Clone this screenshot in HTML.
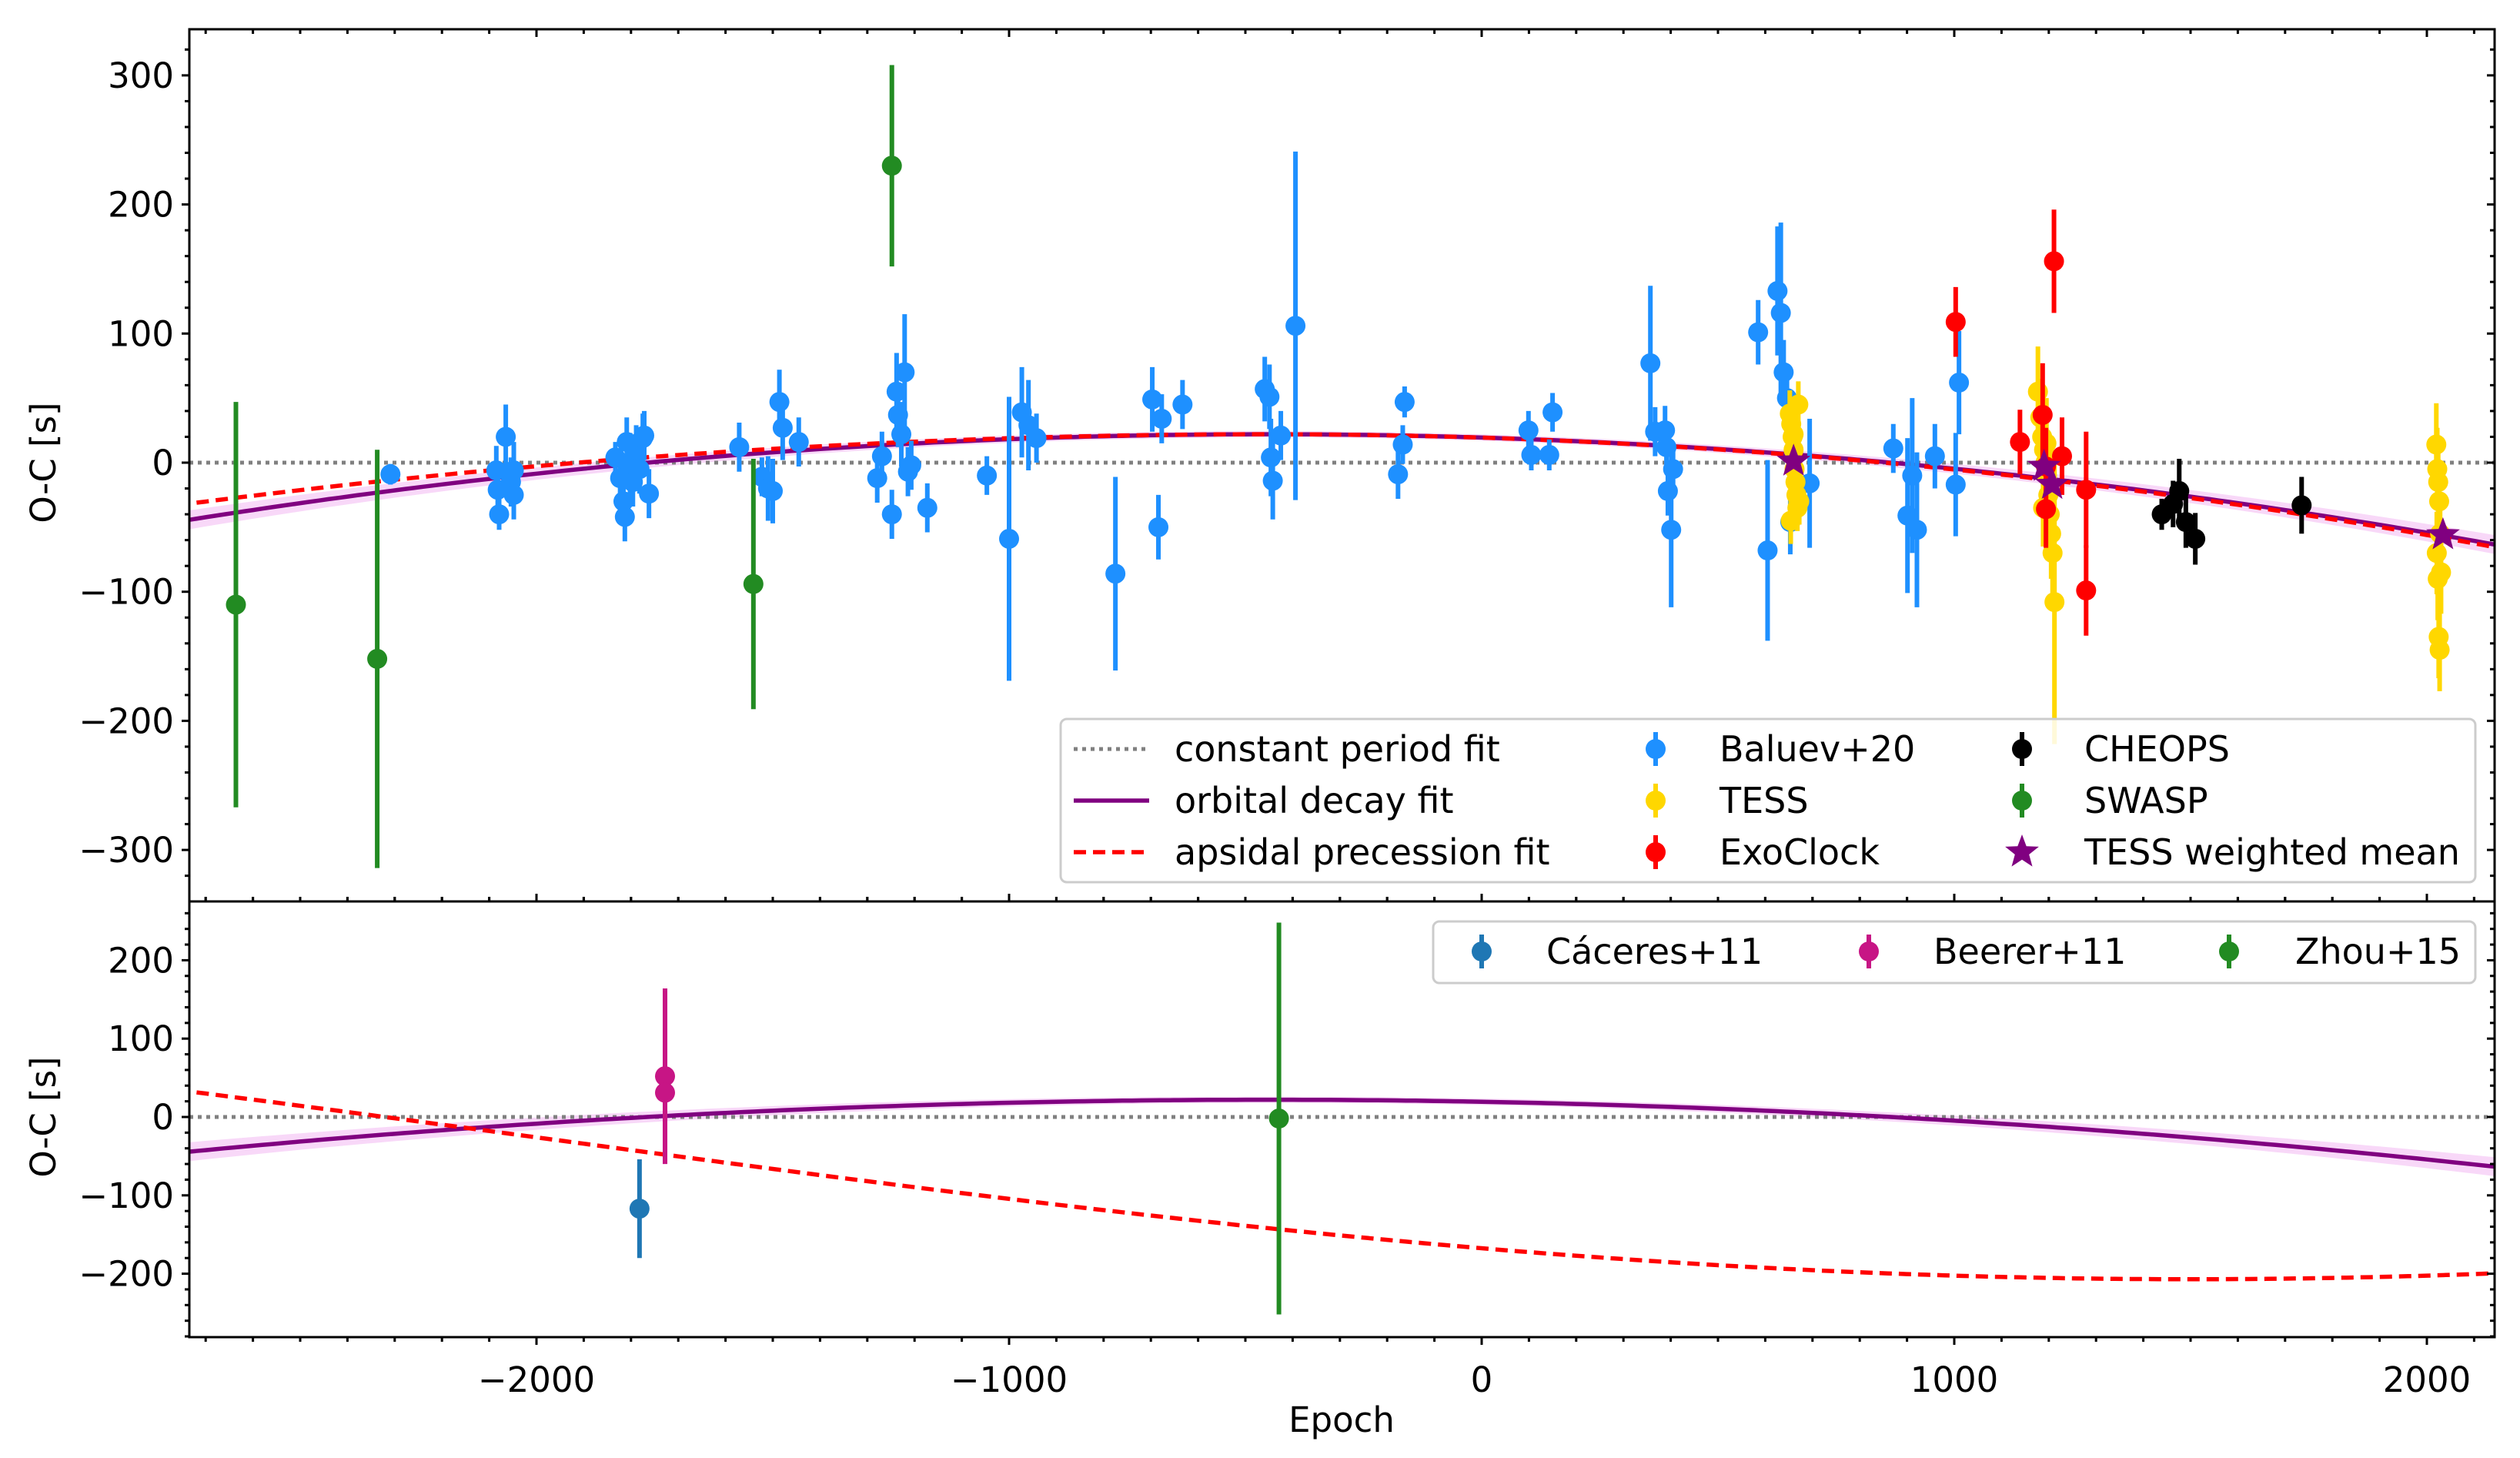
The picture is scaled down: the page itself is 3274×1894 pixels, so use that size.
<!DOCTYPE html>
<html><head><meta charset="utf-8"><style>
body{margin:0;background:#fff}
svg{display:block;font-family:"DejaVu Sans","Liberation Sans",sans-serif}
</style></head><body>
<svg id="fig" width="3274" height="1894" viewBox="0 0 3274 1894" xmlns="http://www.w3.org/2000/svg">
<defs>
<clipPath id="cTop"><rect x="246" y="38" width="2995" height="1133"/></clipPath>
<clipPath id="cBot"><rect x="246" y="1171" width="2995" height="566"/></clipPath>
</defs>
<g id="gTop" clip-path="url(#cTop)"></g>
<g id="gBot" clip-path="url(#cBot)"></g>
<g id="axes"></g>
<text x="0" y="0" font-size="45" text-anchor="middle" transform="translate(72,601) rotate(-90)">O-C [s]</text>
<text x="0" y="0" font-size="45" text-anchor="middle" transform="translate(72,1451) rotate(-90)">O-C [s]</text>
<text x="1743" y="1860" font-size="45" text-anchor="middle">Epoch</text>
<g id="legTop"></g>
<g id="legBot"></g>
</svg>
<script>
// ---- data ----
const baluevE=[-2309,-2085,-2082,-2079,-2065,-2054,-2048,-2048,-1833,-1823,-1816,-1813,-1809,-1802,-1796,-1789,-1782,-1775,-1772,-1762,-1571,-1523,-1510,-1500,-1486,-1479,-1445,-1279,-1269,-1248,-1238,-1235,-1228,-1221,-1214,-1207,-1173,-1047,-1000,-973,-959,-942,-775,-697,-684,-677,-633,-459,-449,-446,-442,-425,-394,-177,-167,-163,99,105,143,150,357,367,388,391,394,401,405,585,605,626,633,639,646,653,694,871,901,911,921,959,1003,1010];
const baluevV=[-9,-6,-21,-40,20,-15,-6,-25,4,-12,-30,-42,16,-2,-15,10,-5,19,21,-24,12,-11,-20,-22,47,27,16,-12,5,-40,55,37,22,70,-7,-2,-35,-10,-59,39,29,19,-86,49,-50,34,45,57,51,4,-14,21,106,-9,14,47,25,6,6,39,77,24,25,12,-22,-52,-5,101,-68,133,116,70,50,-46,-16,11,-41,-10,-52,5,-17,62];
const baluevErr=[8,19,15,12,25,19,22,19,12,15,19,19,19,25,19,19,19,19,19,19,19,15,25,25,25,25,19,19,19,19,30,25,25,45,19,19,19,15,110,35,35,19,75,25,25,19,19,25,25,30,30,19,135,19,15,12,15,12,12,15,60,19,19,19,19,60,19,25,70,50,70,25,25,25,50,19,60,60,60,25,40,40];
const tessE=[652,655,658,660,662,664,666,668,654,660,670,672,1177,1182,1186,1190,1193,1196,1199,1202,1205,1208,1212,1188,1195,2020,2022,2024,2026,2028,2021,2023,2025,2027,2030];
const tessV=[38,30,20,10,-5,-15,-25,-35,-45,22,45,-30,55,35,20,10,0,-10,-25,-40,-55,-70,-108,-35,15,14,-5,-15,-30,-55,-70,-90,-135,-145,-85];
const tessErr=[18,18,18,18,18,18,18,18,18,18,18,18,35,30,30,30,30,30,35,35,35,35,110,30,35,32,32,32,32,32,32,32,32,32,32];
const exoE=[1003,1139,1187,1194,1211,1228,1194,1279,1279];
const exoV=[109,16,37,-3,156,5,-36,-21,-99];
const exoErr=[27,25,40,30,40,30,30,45,35];
const cheopsE=[1439,1463,1476,1490,1510,1735];
const cheopsV=[-40,-32,-22,-46,-59,-33];
const cheopsErr=[12,18,25,20,20,22];
const swaspE=[-2636,-2337,-1541,-1248];
const swaspV=[-110,-152,-94,230];
const swaspErr=[157,162,97,78];
const meanE=[660,1190,1207,2034];
const meanV=[1,-3,-17,-56];
const caceresE=[-1782];const caceresV=[-117];const caceresErr=[63];
const beererE=[-1728,-1728];const beererV=[52,31];const beererErr=[112,82];
const zhouE=[-429];const zhouV=[-2];const zhouErr=[250];
const xTicks=[-2000,-1000,0,1000,2000];
const yTicksTop=[300,200,100,0,-100,-200,-300];
const yTicksBot=[200,100,0,-100,-200];

// ---- scales ----
const L=246,R=3241,TT=38,TB=1171,BT=1171,BB=1737;
const X=e=>1925+e*0.614;
const YT=v=>601-v*1.677;
const YB=v=>1451-v*1.018;
const NS='http://www.w3.org/2000/svg';
function mk(tag,attrs,parent){const el=document.createElementNS(NS,tag);for(const k in attrs)el.setAttribute(k,attrs[k]);parent.appendChild(el);return el;}
const gTop=document.getElementById('gTop'),gBot=document.getElementById('gBot'),ax=document.getElementById('axes');
const decay=e=>22-1.27e-5*(e+450)*(e+450);
const apsTop=e=>e< -450?22-1.03e-5*(e+450)*(e+450):22-1.3e-5*(e+450)*(e+450);
const apsBot=e=>-26-181*Math.cos(Math.PI*(e-1500)/7000);
function curvePts(f,Y){let p=[];for(let e=-2800;e<=2200;e+=20)p.push(X(e).toFixed(1)+','+Y(f(e)).toFixed(1));return p.join(' ');}
function band(f,Y,g){let up=[],dn=[];for(let e=-2800;e<=2200;e+=20){const w=4+Math.pow(Math.abs(e+300)/2400,2)*8;up.push(X(e)+','+(Y(f(e))-w));dn.unshift(X(e)+','+(Y(f(e))+w));}
 const b=mk('polygon',{points:up.concat(dn).join(' '),fill:'#f5c8f5','fill-opacity':'0.7'},g);
 
 }
function drawPanel(g,Y,aps){
 band(decay,Y,g);
 const z=mk('line',{x1:L,x2:R,y1:Y(0),y2:Y(0),stroke:'#808080','stroke-width':5,'stroke-dasharray':'5 6'},g);
 
 
 const d=mk('polyline',{points:curvePts(decay,Y),fill:'none',stroke:'#800080','stroke-width':5.5},g);
 
 
 const a=mk('polyline',{points:curvePts(aps,Y),fill:'none',stroke:'#ff0000','stroke-width':5.5,'stroke-dasharray':'16 9'},g);
 
 
}
function series(g,Y,E,V,Er,col,name){
 for(let i=0;i<E.length;i++){
  const l=mk('line',{x1:X(E[i]),x2:X(E[i]),y1:Y(V[i]+Er[i]),y2:Y(V[i]-Er[i]),stroke:col,'stroke-width':6},g);
  
  
 }
 for(let i=0;i<E.length;i++){
  const c=mk('circle',{cx:X(E[i]),cy:Y(V[i]),r:13,fill:col},g);
  
  
 }
}
function starPath(cx,cy,r){let p=[];for(let i=0;i<10;i++){const rr=i%2?r*0.42:r;const a=-Math.PI/2+i*Math.PI/5;p.push((cx+rr*Math.cos(a)).toFixed(1)+','+(cy+rr*Math.sin(a)).toFixed(1));}return p.join(' ');}
drawPanel(gTop,YT,apsTop);
series(gTop,YT,baluevE,baluevV,baluevErr,'#1e90ff','baluev');
series(gTop,YT,tessE,tessV,tessErr,'#ffd700','tess');
series(gTop,YT,exoE,exoV,exoErr,'#ff0000','exoclock');
series(gTop,YT,cheopsE,cheopsV,cheopsErr,'#000000','cheops');
series(gTop,YT,swaspE,swaspV,swaspErr,'#228b22','swasp');
for(let i=0;i<meanE.length;i++){
 const s=mk('polygon',{points:starPath(X(meanE[i]),YT(meanV[i]),23),fill:'#800080'},gTop);
 
 
}
drawPanel(gBot,YB,apsBot);
series(gBot,YB,caceresE,caceresV,caceresErr,'#1f77b4','caceres');
series(gBot,YB,beererE,beererV,beererErr,'#c71585','beerer');
series(gBot,YB,zhouE,zhouV,zhouErr,'#228b22','zhou');

// ---- axes ----
function frame(t,b,name){const r=mk('rect',{x:L,y:t,width:R-L,height:b-t,fill:'none',stroke:'#000','stroke-width':3},ax);
 
 }
frame(TT,TB,'top-panel-frame');frame(BT,BB,'bottom-panel-frame');
function tline(x1,y1,x2,y2,w){mk('line',{x1,y1,x2,y2,stroke:'#000','stroke-width':w||3},ax);}
for(let e=-2700;e<=2100;e+=100){const x=X(e);const maj=e%1000===0;const len=maj?10:6;
 tline(x,BB,x,BB+len);tline(x,BT,x,BT-len);tline(x,TB,x,TB-len);tline(x,TT,x,TT+len);}
xTicks.forEach(e=>{const t=mk('text',{x:X(e),y:1808,'font-size':45,'text-anchor':'middle'},ax);t.textContent=String(e).replace('-','\u2212');
 
 });
for(let v=-340;v<=340;v+=20){const y=YT(v);if(y<TT||y>TB)continue;const maj=v%100===0;const len=maj?10:6;tline(L,y,L-len,y);tline(R,y,R-len,y);}
for(let v=-280;v<=280;v+=20){const y=YB(v);if(y<BT||y>BB)continue;const maj=v%100===0;const len=maj?10:6;tline(L,y,L-len,y);tline(R,y,R-len,y);}
yTicksTop.forEach(v=>{const t=mk('text',{x:226,y:YT(v)+16,'font-size':45,'text-anchor':'end'},ax);t.textContent=String(v).replace('-','\u2212');
 
 });
yTicksBot.forEach(v=>{const t=mk('text',{x:226,y:YB(v)+16,'font-size':45,'text-anchor':'end'},ax);t.textContent=String(v).replace('-','\u2212');
 
 });

// ---- legends ----
const lt=document.getElementById('legTop'),lb=document.getElementById('legBot');
mk('rect',{x:1378,y:934,width:1838,height:212,rx:8,fill:'#fff','fill-opacity':0.85,stroke:'#ccc','stroke-width':3},lt);
mk('rect',{x:1862,y:1197,width:1354,height:80,rx:8,fill:'#fff','fill-opacity':0.85,stroke:'#ccc','stroke-width':3},lb);
function ltext(g,x,y,s,name){const t=mk('text',{x,y:y+16,'font-size':46},g);t.textContent=s;
 
 }
const rows=[973,1040,1107];
mk('line',{x1:1395,x2:1493,y1:rows[0],y2:rows[0],stroke:'#808080','stroke-width':5,'stroke-dasharray':'5 6'},lt);
mk('line',{x1:1395,x2:1493,y1:rows[1],y2:rows[1],stroke:'#800080','stroke-width':5.5},lt);
mk('line',{x1:1395,x2:1493,y1:rows[2],y2:rows[2],stroke:'#ff0000','stroke-width':5.5,'stroke-dasharray':'16 9'},lt);
ltext(lt,1526,rows[0],'constant period fit','legend-constant-period');
ltext(lt,1526,rows[1],'orbital decay fit','legend-orbital-decay');
ltext(lt,1526,rows[2],'apsidal precession fit','legend-apsidal-precession');
function lmark(g,x,y,col){mk('line',{x1:x,x2:x,y1:y-22,y2:y+22,stroke:col,'stroke-width':6},g);mk('circle',{cx:x,cy:y,r:13,fill:col},g);}
lmark(lt,2151,rows[0],'#1e90ff');ltext(lt,2234,rows[0],'Baluev+20','legend-baluev');
lmark(lt,2151,rows[1],'#ffd700');ltext(lt,2234,rows[1],'TESS','legend-tess');
lmark(lt,2151,rows[2],'#ff0000');ltext(lt,2234,rows[2],'ExoClock','legend-exoclock');
lmark(lt,2627,rows[0],'#000');ltext(lt,2708,rows[0],'CHEOPS','legend-cheops');
lmark(lt,2627,rows[1],'#228b22');ltext(lt,2708,rows[1],'SWASP','legend-swasp');
mk('polygon',{points:starPath(2627,rows[2],23),fill:'#800080'},lt);ltext(lt,2708,rows[2],'TESS weighted mean','legend-tess-mean');
const rb=1236;
lmark(lb,1925,rb,'#1f77b4');ltext(lb,2009,rb,'Cáceres+11','legend-caceres');
lmark(lb,2428,rb,'#c71585');ltext(lb,2512,rb,'Beerer+11','legend-beerer');
lmark(lb,2896,rb,'#228b22');ltext(lb,2982,rb,'Zhou+15','legend-zhou');
</script>
</body></html>
